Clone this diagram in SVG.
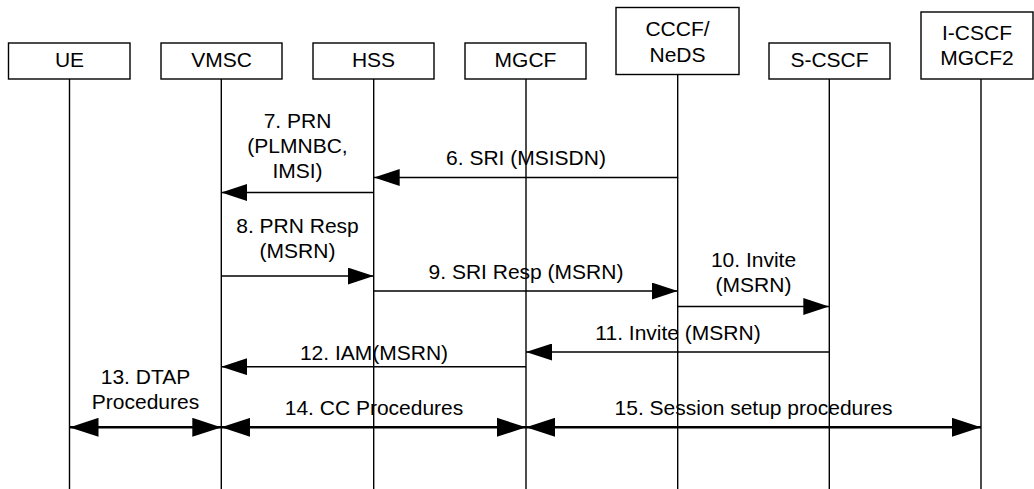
<svg xmlns="http://www.w3.org/2000/svg" width="1034" height="489" viewBox="0 0 1034 489">
<style>
  .box { fill: #ffffff; stroke: #000000; stroke-width: 1.4; }
  .life { stroke: #000000; stroke-width: 1.4; fill: none; }
  .msg { stroke: #000000; stroke-width: 1.4; fill: none; marker-end: url(#ah); }
  .proc { stroke: #000000; stroke-width: 2.6; fill: none; marker-start: url(#dh); marker-end: url(#dh); }
  text { font-family: "Liberation Sans", Arial, sans-serif; font-size: 21px; fill: #000000; text-anchor: middle; }
</style>
<defs>
  <marker id="ah" viewBox="0 0 26 17" refX="26" refY="8.5" markerWidth="26" markerHeight="17" markerUnits="userSpaceOnUse" orient="auto">
    <path d="M0,0 L26,8.5 L0,17 Z" fill="#000000"/>
  </marker>
  <marker id="dh" viewBox="0 0 29 19" refX="29" refY="9.5" markerWidth="29" markerHeight="19" markerUnits="userSpaceOnUse" orient="auto-start-reverse">
    <path d="M0,0 L29,9.5 L0,19 Z" fill="#000000"/>
  </marker>
</defs>
<rect width="1034" height="489" fill="#ffffff"/>

<g id="UE">
  <rect class="box" x="8.5" y="43" width="121.5" height="36"/>
  <line class="life" x1="69.5" y1="79" x2="69.5" y2="489"/>
  <text x="69.5" y="67">UE</text>
</g>
<g id="VMSC">
  <rect class="box" x="161" y="43" width="121" height="36"/>
  <line class="life" x1="221.3" y1="79" x2="221.3" y2="489"/>
  <text x="221.5" y="67">VMSC</text>
</g>
<g id="HSS">
  <rect class="box" x="313" y="43" width="121" height="36"/>
  <line class="life" x1="373.7" y1="79" x2="373.7" y2="489"/>
  <text x="373.5" y="67">HSS</text>
</g>
<g id="MGCF">
  <rect class="box" x="465" y="43" width="121" height="36"/>
  <line class="life" x1="526" y1="79" x2="526" y2="489"/>
  <text x="525.5" y="67">MGCF</text>
</g>
<g id="CCCF">
  <rect class="box" x="616" y="7.5" width="123" height="67"/>
  <line class="life" x1="677.7" y1="74.5" x2="677.7" y2="489"/>
  <text x="677.5" y="36">CCCF/</text>
  <text x="677.5" y="62">NeDS</text>
</g>
<g id="S-CSCF">
  <rect class="box" x="769" y="43" width="121" height="36"/>
  <line class="life" x1="829.3" y1="79" x2="829.3" y2="489"/>
  <text x="829.5" y="67">S-CSCF</text>
</g>
<g id="I-CSCF">
  <rect class="box" x="921" y="12" width="112" height="67"/>
  <line class="life" x1="981" y1="79" x2="981" y2="489"/>
  <text x="977" y="40">I-CSCF</text>
  <text x="977" y="65">MGCF2</text>
</g>

<g id="connectors">
  <line class="msg" x1="677.7" y1="177.5" x2="373.7" y2="177.5"/>
  <text x="526" y="165">6. SRI (MSISDN)</text>

  <line class="msg" x1="373.7" y1="192.5" x2="221.3" y2="192.5"/>
  <text x="297.5" y="128">7. PRN</text>
  <text x="297.5" y="153">(PLMNBC,</text>
  <text x="297.5" y="178">IMSI)</text>

  <line class="msg" x1="221.3" y1="276" x2="373.7" y2="276"/>
  <text x="297.5" y="233">8. PRN Resp</text>
  <text x="297.5" y="258">(MSRN)</text>

  <line class="msg" x1="373.7" y1="291" x2="677.7" y2="291"/>
  <text x="526" y="279">9. SRI Resp (MSRN)</text>

  <line class="msg" x1="677.7" y1="306.5" x2="829.3" y2="306.5"/>
  <text x="753.5" y="266.5">10. Invite</text>
  <text x="753.5" y="292">(MSRN)</text>

  <line class="msg" x1="829.3" y1="352" x2="526" y2="352"/>
  <text x="678" y="340">11. Invite (MSRN)</text>

  <line class="msg" x1="526" y1="366.7" x2="221.3" y2="366.7"/>
  <text x="374" y="359.5">12. IAM(MSRN)</text>

  <line class="proc" x1="69.5" y1="427.3" x2="221.3" y2="427.3"/>
  <text x="145.5" y="383.5">13. DTAP</text>
  <text x="145.5" y="409">Procedures</text>

  <line class="proc" x1="221.3" y1="427.3" x2="526" y2="427.3"/>
  <text x="374" y="415">14. CC Procedures</text>

  <line class="proc" x1="526" y1="427.3" x2="981" y2="427.3"/>
  <text x="753.5" y="415">15. Session setup procedures</text>
</g>
</svg>
